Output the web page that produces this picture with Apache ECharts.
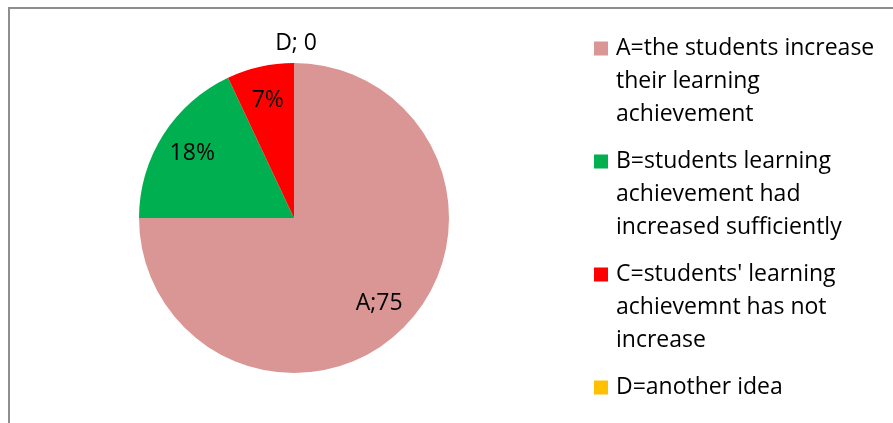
<!DOCTYPE html>
<html>
<head>
<meta charset="utf-8">
<script src="https://cdn.jsdelivr.net/npm/echarts@6/dist/echarts.min.js"></script>
<style>
html, body { margin: 0; padding: 0; background: #fff; }
#chart { width: 893px; height: 423px; }
</style>
</head>
<body>
<div id="chart"></div>
<script>
const categories = [
  'A=the students increase their learning achievement',
  'B=students learning achievement had increased sufficiently',
  "C=students' learning achievemnt has not increase",
  'D=another idea'
]
// legend text as it wraps in the picture
const legendLines = [
  ['A=the students increase', 'their learning', 'achievement'],
  ['B=students learning', 'achievement had', 'increased sufficiently'],
  ["C=students' learning", 'achievemnt has not', 'increase'],
  ['D=another idea']
]
const values = [75, 18, 7, 0]
const colors = ['#D99694', '#00B050', '#FF0000', '#FFC000']
// how each slice label is written
const labelKinds = ['letterValue', 'percent', 'percent', 'letterSpaceValue']

const FONT = '"Open Sans", "Noto Sans", sans-serif'
const FONT_SIZE = 23
const LINE_H = 33

function sliceLabel(p) {
  const kind = labelKinds[p.dataIndex]
  const letter = p.name.charAt(0)
  if (kind === 'percent') return Math.round(p.percent) + '%'
  if (kind === 'letterSpaceValue') return letter + '; ' + p.value
  return letter + ';' + p.value
}

const chart = echarts.init(document.getElementById('chart'))

const option = {
  animation: false,
  color: colors,
  graphic: [
    {
      type: 'rect',
      silent: true,
      shape: { x: 9, y: 8, width: 1000, height: 1000 },
      style: { fill: 'none', stroke: '#8e8e8e', lineWidth: 2 }
    }
  ],
  legend: {
    orient: 'vertical',
    left: 594,
    top: 32,
    height: 600,
    padding: 0,
    itemGap: 14,
    itemWidth: 17,
    itemHeight: LINE_H * 3,
    // square sits on the first text line
    icon: 'path://M0,0h0M0,9.5h14v14h-14zM17,99h0',
    selectedMode: false,
    textStyle: {
      fontFamily: FONT,
      fontSize: FONT_SIZE,
      color: '#000',
      lineHeight: LINE_H
    },
    formatter(name) {
      const lines = legendLines[categories.indexOf(name)].slice()
      while (lines.length < 3) lines.push('')
      return lines.join('\n')
    },
    data: categories
  },
  series: [
    {
      type: 'pie',
      center: [294, 218],
      radius: 155,
      startAngle: 90,
      clockwise: true,
      silent: true,
      itemStyle: { borderWidth: 0 },
      label: {
        show: false,
        position: 'outside',
        formatter: sliceLabel,
        fontFamily: FONT,
        fontSize: FONT_SIZE,
        color: '#000',
        distanceToLabelLine: -23
      },
      labelLine: { show: false, length: 20, length2: 0 },
      data: categories.map((name, i) => ({
        name,
        value: values[i],
        label: { show: values[i] === 0 }
      }))
    },
    {
      // transparent ring that only carries the inner labels
      type: 'pie',
      center: [294, 218],
      radius: [80, 155],
      startAngle: 90,
      clockwise: true,
      silent: true,
      itemStyle: { color: 'rgba(0,0,0,0)', borderWidth: 0 },
      label: {
        show: true,
        position: 'inside',
        formatter: sliceLabel,
        fontFamily: FONT,
        fontSize: FONT_SIZE,
        color: '#000'
      },
      labelLine: { show: false },
      data: categories.map((name, i) => ({
        name,
        value: values[i],
        label: { show: values[i] !== 0 }
      }))
    }
  ]
}

chart.setOption(option)
</script>
</body>
</html>
